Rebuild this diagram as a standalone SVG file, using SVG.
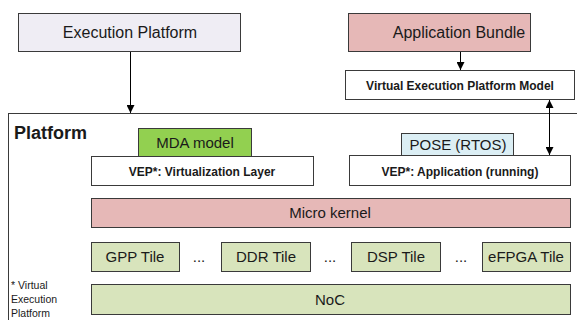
<svg xmlns="http://www.w3.org/2000/svg" width="577" height="320" viewBox="0 0 577 320">
<defs>
<marker id="ah" viewBox="0 0 10 10" refX="10" refY="5" markerWidth="8" markerHeight="8" markerUnits="userSpaceOnUse" orient="auto-start-reverse">
<path d="M0,0 L10,5 L0,10 z" fill="#000"/>
</marker>
<style>
.b{stroke:#3a3a3a;stroke-width:1}
.t{font-family:"Liberation Sans",Arial,sans-serif;fill:#1a1a1a;text-anchor:middle}
.m{font-size:15px}
.l{font-size:16px}
.bd{font-size:12px;font-weight:bold}
.fn{font-size:10.5px;text-anchor:start}
.c{stroke:#000;stroke-width:1;fill:none}
</style>
</defs>
<rect width="577" height="320" fill="#fff"/>
<g id="platform">
<rect class="b" x="8.5" y="113.5" width="580" height="220" fill="#fff"/>
<text class="t" x="14" y="139" style="font-size:18px;font-weight:bold;text-anchor:start">Platform</text>
</g>
<g id="execution-platform">
<rect class="b" x="18.5" y="13.5" width="222" height="38" fill="#efedf4"/>
<text class="t l" x="130" y="38">Execution Platform</text>
</g>
<g id="application-bundle">
<rect class="b" x="348.5" y="13.5" width="182" height="38" fill="#e6b8b7"/>
<text class="t l" x="459" y="38">Application Bundle</text>
</g>
<g id="vep-model">
<rect class="b" x="345.5" y="70.5" width="229" height="29" fill="#fff"/>
<text class="t bd" x="460" y="89.5">Virtual Execution Platform Model</text>
</g>
<g id="vep-virtualization">
<rect class="b" x="91.5" y="156.5" width="222" height="29" fill="#fff"/>
<text class="t bd" x="202" y="175.5">VEP*: Virtualization Layer</text>
</g>
<g id="mda-model">
<rect class="b" x="138.5" y="128.5" width="113" height="28" fill="#92d050"/>
<text class="t m" x="195" y="148">MDA model</text>
</g>
<g id="vep-application">
<rect class="b" x="349.5" y="155.5" width="221" height="30" fill="#fff"/>
<text class="t bd" x="460" y="175.5">VEP*: Application (running)</text>
</g>
<g id="pose">
<rect class="b" x="401.5" y="133.5" width="112" height="22" fill="#dbeef4"/>
<text class="t m" x="458" y="149.5">POSE (RTOS)</text>
</g>
<g id="micro-kernel">
<rect class="b" x="91.5" y="198.5" width="479" height="29" fill="#e6b8b7"/>
<text class="t m" x="330" y="218">Micro kernel</text>
</g>
<g id="gpp-tile">
<rect class="b" x="91.5" y="242.5" width="88" height="29" fill="#d8e4bc"/>
<text class="t m" x="135" y="262">GPP Tile</text>
</g>
<g id="ddr-tile">
<rect class="b" x="221.5" y="242.5" width="89" height="29" fill="#d8e4bc"/>
<text class="t m" x="266" y="262">DDR Tile</text>
</g>
<g id="dsp-tile">
<rect class="b" x="351.5" y="242.5" width="89" height="29" fill="#d8e4bc"/>
<text class="t m" x="396" y="262">DSP Tile</text>
</g>
<g id="efpga-tile">
<rect class="b" x="482.5" y="242.5" width="88" height="29" fill="#d8e4bc"/>
<text class="t m" x="526" y="262">eFPGA Tile</text>
</g>
<g id="dots">
<text class="t m" x="199" y="262">...</text>
<text class="t m" x="330" y="262">...</text>
<text class="t m" x="461" y="262">...</text>
</g>
<g id="noc">
<rect class="b" x="91.5" y="284.5" width="479" height="30" fill="#d8e4bc"/>
<text class="t m" x="330" y="305">NoC</text>
</g>
<g id="footnote">
<text class="t fn" x="11" y="289">* Virtual</text>
<text class="t fn" x="11" y="303">Execution</text>
<text class="t fn" x="11" y="317">Platform</text>
</g>
<g id="connectors">
<line class="c" x1="130.5" y1="52" x2="130.5" y2="113" marker-end="url(#ah)"/>
<line class="c" x1="460.5" y1="52" x2="460.5" y2="70" marker-end="url(#ah)"/>
<line class="c" x1="549.5" y1="100" x2="549.5" y2="155" marker-start="url(#ah)" marker-end="url(#ah)"/>
</g>
</svg>
